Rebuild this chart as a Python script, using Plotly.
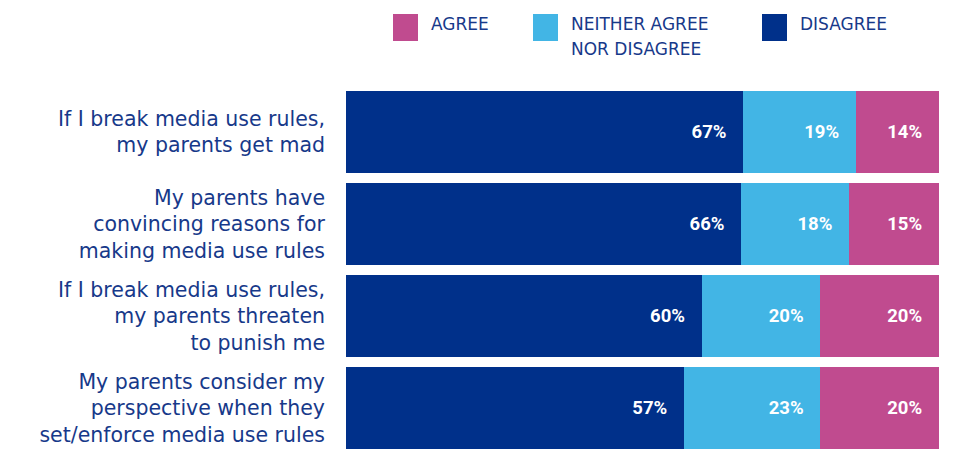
import plotly.graph_objects as go

categories = [
    "If I break media use rules,<br>my parents get mad",
    "My parents have<br>convincing reasons for<br>making media use rules",
    "If I break media use rules,<br>my parents threaten<br>to punish me",
    "My parents consider my<br>perspective when they<br>set/enforce media use rules",
]
disagree = [67, 66, 60, 57]
neither = [19, 18, 20, 23]
agree = [14, 15, 20, 20]

legend_labels = [["AGREE"], ["NEITHER AGREE", "NOR DISAGREE"], ["DISAGREE"]]

colors = {"DISAGREE": "#00308a", "NEITHER": "#42b5e5", "AGREE": "#c04b8f"}
text_color = "#17398a"
NB = "\u00a0\u00a0\u00a0"

# page body has an 8px margin; compensate so the plot lands where intended
OFF = 8
L, R, T = 346 - OFF, 939 - OFF, 91 - OFF
W, H = 954, 449

fig = go.Figure()
for vals, key in [(disagree, "DISAGREE"), (neither, "NEITHER"), (agree, "AGREE")]:
    fig.add_trace(go.Bar(
        y=categories, x=vals, orientation="h",
        marker=dict(color=colors[key], line=dict(width=0)),
        text=[f"{v}%{NB}" for v in vals],
        textposition="inside", insidetextanchor="end",
        textfont=dict(family="Roboto", size=18.5, color="white", weight="bold"),
        showlegend=False, hoverinfo="skip",
    ))

g = 0.109
plot_h = H - OFF - T
fig.update_layout(
    width=W, height=H,
    margin=dict(l=L, r=W - R, t=T, b=OFF),
    barmode="stack", barnorm="percent", bargap=g,
    plot_bgcolor="white", paper_bgcolor="white",
    xaxis=dict(visible=False, range=[0, 100.01]),
    yaxis=dict(
        type="category", categoryorder="array", categoryarray=categories,
        range=[3 + (1 - g) / 2, -(1 - g) / 2],
        showgrid=False, showline=False, zeroline=False, ticks="",
        ticklabelstandoff=20,
        tickfont=dict(family="DejaVu Sans", size=20.5, color=text_color),
    ),
    uniformtext=dict(mode=False),
)

# Legend drawn manually (square swatches + labels), positions in screen px
pw = R - L
def px_x(x):
    return (x - OFF - L) / pw
def px_y(y):
    return 1 + (T - (y - OFF)) / plot_h

swatch_x = [393, 533, 762]
swatch_cols = [colors["AGREE"], colors["NEITHER"], colors["DISAGREE"]]
for lines, col, x0 in zip(legend_labels, swatch_cols, swatch_x):
    fig.add_shape(type="rect", xref="paper", yref="paper",
                  x0=px_x(x0), x1=px_x(x0 + 25),
                  y0=px_y(41), y1=px_y(14),
                  fillcolor=col, line=dict(width=0))
    for i, line in enumerate(lines):
        fig.add_annotation(xref="paper", yref="paper",
                           x=px_x(x0 + 36), y=px_y(24 + 25 * i),
                           xanchor="left", yanchor="middle", align="left",
                           text=line, showarrow=False,
                           font=dict(family="DejaVu Sans", size=17, color=text_color))

fig.write_html("out.html")
